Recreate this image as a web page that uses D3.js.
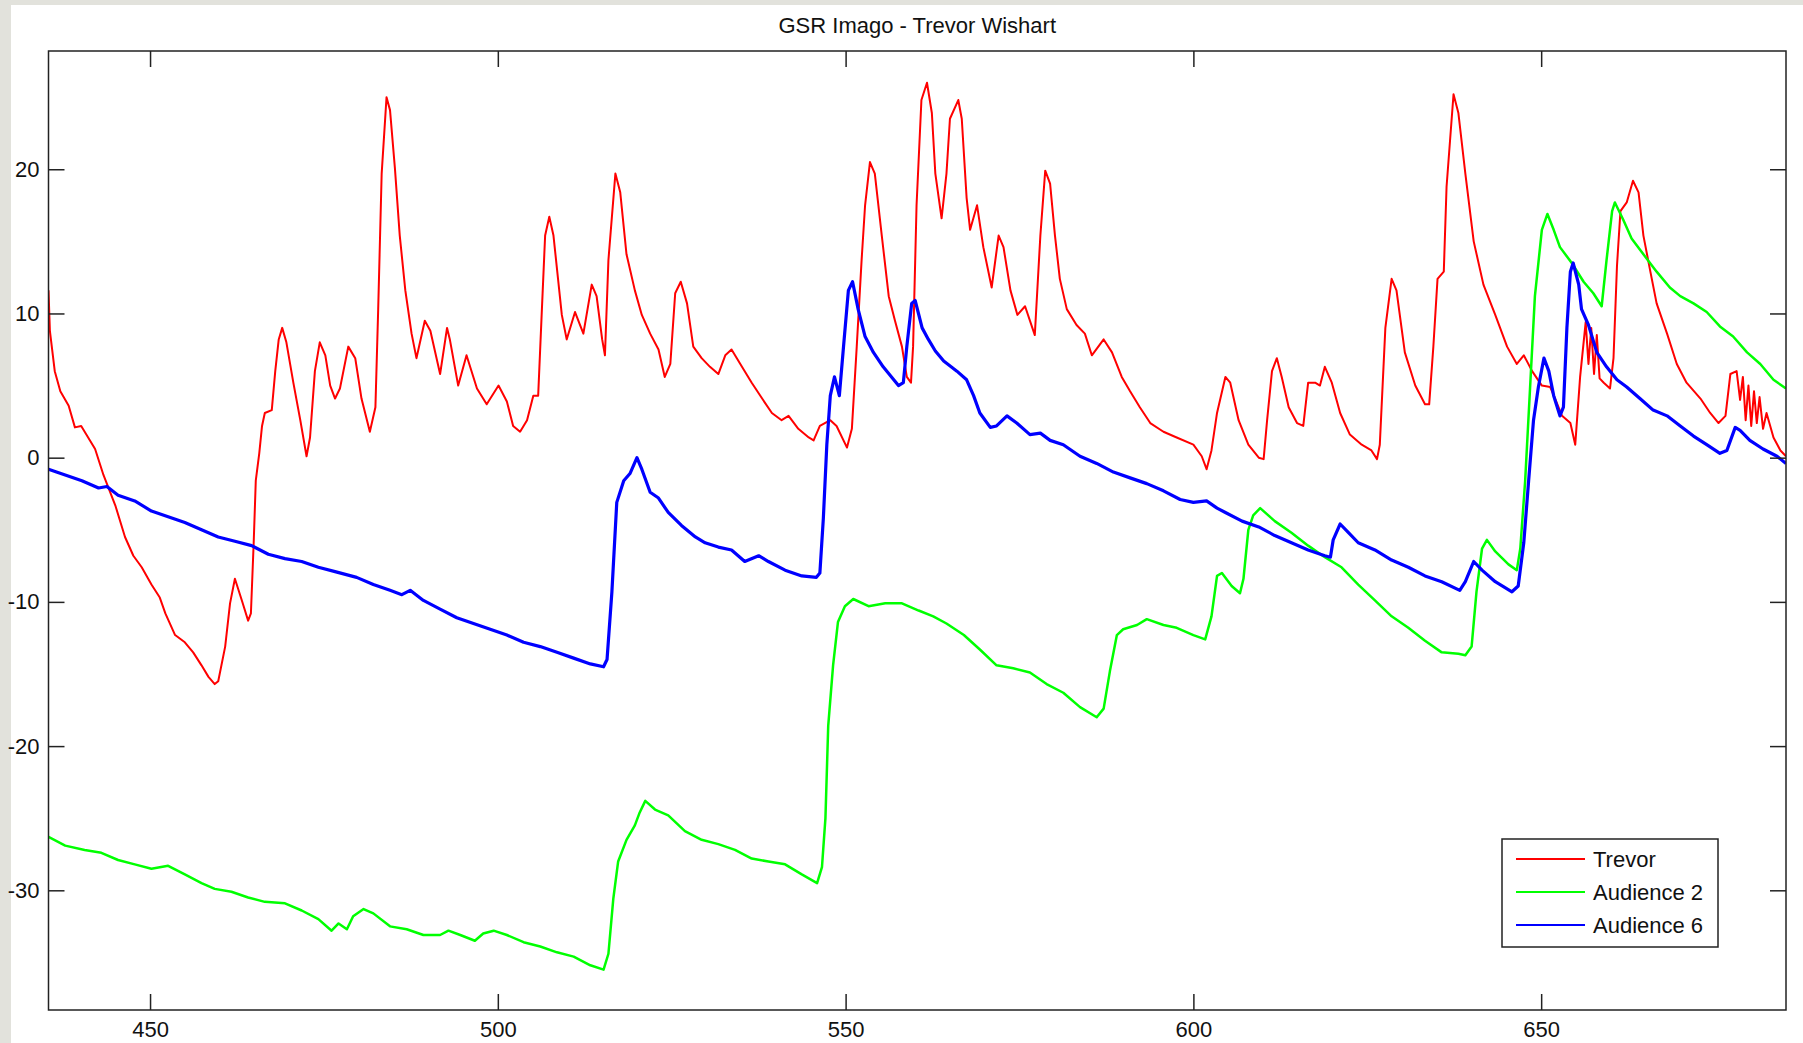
<!DOCTYPE html>
<html>
<head>
<meta charset="utf-8">
<script src="https://cdn.jsdelivr.net/npm/d3@7"></script>
<style>
  html, body { margin: 0; padding: 0; background: #e2e2dc; }
  svg { display: block; }
  text { font-family: "Liberation Sans", Arial, sans-serif; fill: #111; }
</style>
</head>
<body>
<svg id="chart" width="1803" height="1043"></svg>
<script>
// data: [time, gsr]
const trevor = [
  [435.4,11.6],[435.6,8.8],[436.3,6.0],[437.1,4.6],[438.3,3.6],[439.2,2.1],[440.1,2.2],[441.1,1.4],[442.1,0.6],
  [443.3,-1.2],[445.0,-3.3],[446.4,-5.5],[447.6,-6.8],[448.8,-7.6],[450.2,-8.8],[451.4,-9.7],[452.2,-10.8],
  [453.6,-12.3],[455.0,-12.8],[456.2,-13.5],[457.4,-14.4],[458.4,-15.2],[459.3,-15.7],[459.8,-15.5],[460.8,-13.1],
  [461.5,-10.1],[462.2,-8.4],[463.2,-9.9],[464.1,-11.3],[464.5,-10.8],[464.9,-5.9],[465.2,-1.6],[465.7,0.3],
  [466.1,2.2],[466.5,3.1],[467.5,3.3],[468.0,6.0],[468.5,8.2],[469.0,9.0],[469.6,8.0],[470.6,5.2],[471.6,2.6],
  [472.5,0.1],[473.0,1.4],[473.7,6.0],[474.4,8.0],[475.2,7.1],[475.9,5.0],[476.6,4.1],[477.3,4.8],[478.5,7.7],
  [479.5,6.9],[480.4,4.1],[481.6,1.8],[482.4,3.5],[482.8,10.3],[483.3,19.7],[484.0,25.0],[484.5,24.1],[485.2,20.1],
  [485.9,15.4],[486.7,11.6],[487.6,8.6],[488.3,6.9],[489.5,9.5],[490.3,8.8],[491.7,5.8],[492.7,9.0],[493.1,8.2],
  [494.3,5.0],[495.5,7.1],[497.0,4.8],[498.4,3.7],[500.1,5.0],[501.3,3.9],[502.2,2.2],[503.2,1.8],[504.2,2.6],
  [505.1,4.3],[505.8,4.3],[506.3,9.9],[506.8,15.4],[507.4,16.7],[508.0,15.4],[509.2,9.9],[509.9,8.2],[511.1,10.1],
  [512.3,8.6],[513.5,12.0],[514.2,11.2],[515.0,8.2],[515.4,7.1],[515.9,13.7],[516.9,19.7],[517.6,18.4],[518.5,14.1],
  [519.7,11.6],[520.7,9.9],[521.9,8.6],[523.1,7.5],[524.0,5.6],[524.8,6.5],[525.5,11.4],[526.3,12.2],[527.2,10.7],
  [528.1,7.7],[529.3,6.9],[530.5,6.3],[531.7,5.8],[532.7,7.1],[533.6,7.5],[535.1,6.3],[536.5,5.2],[538.0,4.1],
  [539.4,3.1],[540.8,2.6],[541.8,2.9],[543.2,2.0],[544.7,1.4],[545.4,1.2],[546.3,2.2],[547.8,2.6],[548.7,2.2],
  [550.2,0.7],[550.9,2.0],[551.6,7.7],[552.3,13.7],[552.8,17.5],[553.5,20.5],[554.2,19.7],[555.2,15.4],[556.2,11.2],
  [557.1,9.5],[558.1,7.7],[558.8,5.6],[559.4,5.2],[559.7,7.7],[560.2,17.5],[560.9,24.8],[561.7,26.0],[562.4,23.9],
  [562.9,19.7],[563.8,16.6],[564.5,19.7],[565.0,23.5],[566.2,24.8],[566.7,23.5],[567.4,18.0],[567.9,15.8],
  [568.9,17.5],[569.8,14.6],[571.0,11.8],[572.0,15.4],[572.7,14.6],[573.7,11.6],[574.7,9.9],[575.8,10.5],
  [577.2,8.5],[578.0,15.4],[578.7,19.9],[579.4,19.0],[580.1,15.4],[580.8,12.4],[581.8,10.3],[583.2,9.2],
  [584.4,8.6],[585.4,7.1],[587.1,8.2],[588.3,7.3],[589.7,5.6],[590.9,4.6],[592.3,3.5],[593.8,2.4],[595.7,1.8],
  [597.6,1.4],[600.0,0.9],[601.2,0.1],[601.9,-0.8],[602.6,0.5],[603.4,3.1],[604.6,5.6],[605.3,5.2],[606.5,2.6],
  [607.9,0.9],[609.4,0.0],[610.1,-0.1],[610.6,2.6],[611.3,6.0],[612.0,6.9],[612.7,5.6],[613.7,3.5],[614.9,2.4],
  [615.8,2.2],[616.5,5.2],[617.5,5.2],[618.2,5.0],[618.9,6.3],[619.9,5.2],[621.1,3.1],[622.5,1.6],[624.2,0.9],
  [625.6,0.5],[626.4,-0.1],[626.8,0.9],[627.6,9.0],[628.5,12.4],[629.2,11.6],[630.4,7.3],[631.9,5.0],[633.3,3.7],
  [633.9,3.7],[634.5,7.7],[635.1,12.4],[636.0,12.9],[636.4,18.8],[637.4,25.2],[638.1,23.9],[639.1,19.7],
  [640.3,15.0],[641.7,12.0],[643.4,9.9],[645.1,7.7],[646.5,6.5],[647.5,7.1],[648.7,6.0],[650.1,5.0],[651.3,4.9],
  [652.0,4.1],[653.0,2.9],[654.2,2.4],[654.9,0.9],[655.6,5.6],[656.4,9.4],[656.8,6.5],[657.2,9.0],[657.6,5.8],
  [658.0,8.5],[658.4,5.5],[659.0,5.2],[659.9,4.8],[660.4,6.9],[660.9,13.3],[661.4,17.1],[662.3,17.7],[663.2,19.2],
  [664.0,18.4],[664.7,15.4],[665.7,12.9],[666.6,10.7],[668.1,8.6],[669.5,6.5],[670.9,5.2],[672.9,4.1],[674.3,3.1],
  [675.5,2.4],[676.5,2.9],[677.2,5.8],[678.1,6.0],[678.6,4.0],[679.0,5.6],[679.4,2.6],[679.8,5.0],[680.2,2.2],
  [680.6,4.6],[681.0,2.4],[681.4,4.2],[681.9,2.0],[682.4,3.1],[683.4,1.4],[684.4,0.5],[685.2,0.1]
];

const audience2 = [
  [435.4,-26.3],[437.8,-26.9],[440.6,-27.2],[443.0,-27.4],[445.4,-27.9],[447.8,-28.2],[450.2,-28.5],[452.6,-28.3],
  [455.0,-28.9],[457.4,-29.5],[459.3,-29.9],[461.7,-30.1],[464.1,-30.5],[466.5,-30.8],[469.4,-30.9],[471.8,-31.4],
  [474.2,-32.0],[476.1,-32.8],[477.1,-32.3],[478.3,-32.7],[479.2,-31.8],[480.7,-31.3],[482.1,-31.6],[484.5,-32.5],
  [486.9,-32.7],[489.3,-33.1],[491.7,-33.1],[492.9,-32.8],[494.6,-33.1],[496.7,-33.5],[497.9,-33.0],[499.4,-32.8],
  [501.3,-33.1],[503.7,-33.6],[506.1,-33.9],[508.5,-34.3],[510.9,-34.6],[513.3,-35.2],[515.2,-35.5],[515.9,-34.4],
  [516.6,-30.6],[517.3,-28.0],[518.5,-26.5],[519.7,-25.5],[520.4,-24.6],[521.2,-23.8],[522.6,-24.4],[524.5,-24.8],
  [526.9,-25.9],[529.3,-26.5],[531.7,-26.8],[534.1,-27.2],[536.5,-27.8],[538.9,-28.0],[541.3,-28.2],[543.7,-28.9],
  [545.9,-29.5],[546.6,-28.4],[547.1,-25.0],[547.5,-18.6],[548.2,-14.4],[548.9,-11.4],[549.9,-10.3],[551.1,-9.8],
  [553.3,-10.3],[555.7,-10.1],[558.1,-10.1],[560.5,-10.6],[562.6,-11.0],[564.5,-11.5],[567.0,-12.3],[569.3,-13.3],
  [571.7,-14.4],[574.1,-14.6],[576.5,-14.9],[578.9,-15.7],[581.3,-16.3],[583.7,-17.3],[586.1,-18.0],[587.1,-17.4],
  [588.0,-14.8],[589.0,-12.3],[589.9,-11.9],[591.9,-11.6],[593.3,-11.2],[595.7,-11.6],[597.6,-11.8],[600.0,-12.3],
  [601.7,-12.6],[602.6,-11.0],[603.4,-8.2],[604.1,-8.0],[605.5,-8.9],[606.7,-9.4],[607.2,-8.4],[607.9,-5.0],
  [608.6,-4.0],[609.6,-3.5],[611.7,-4.4],[614.1,-5.2],[616.5,-6.1],[618.9,-6.9],[621.3,-7.6],[623.7,-8.8],
  [626.1,-9.9],[628.5,-11.0],[630.9,-11.8],[633.3,-12.7],[635.7,-13.5],[638.1,-13.6],[639.1,-13.7],[640.0,-13.1],
  [640.7,-9.3],[641.5,-6.3],[642.2,-5.7],[643.4,-6.5],[645.3,-7.4],[646.5,-7.8],[647.0,-6.3],[647.7,-1.6],
  [648.4,4.8],[649.1,11.2],[650.1,15.8],[650.9,16.9],[651.8,15.8],[652.7,14.6],[654.4,13.5],[656.1,12.2],
  [657.5,11.4],[658.7,10.5],[659.4,13.7],[660.2,17.1],[660.6,17.7],[661.8,16.5],[663.0,15.2],[664.7,14.1],
  [666.6,12.9],[668.5,11.8],[670.0,11.2],[671.9,10.7],[673.8,10.1],[675.7,9.1],[677.6,8.4],[679.6,7.3],
  [681.5,6.5],[683.4,5.4],[685.2,4.8]
];

const audience6 = [
  [435.4,-0.8],[437.8,-1.2],[440.2,-1.6],[442.6,-2.1],[443.8,-2.0],[445.4,-2.6],[447.8,-3.0],[450.2,-3.7],
  [452.6,-4.1],[455.0,-4.5],[457.4,-5.0],[459.8,-5.5],[462.2,-5.8],[464.6,-6.1],[467.0,-6.7],[469.4,-7.0],
  [471.8,-7.2],[474.2,-7.6],[476.6,-7.9],[479.7,-8.3],[482.1,-8.8],[484.5,-9.2],[486.2,-9.5],[487.4,-9.2],
  [489.3,-9.9],[491.7,-10.5],[494.1,-11.1],[496.5,-11.5],[498.9,-11.9],[501.3,-12.3],[503.7,-12.8],[506.1,-13.1],
  [508.5,-13.5],[510.9,-13.9],[513.3,-14.3],[515.2,-14.5],[515.7,-14.0],[516.4,-9.3],[517.1,-3.1],[518.1,-1.6],
  [519.0,-1.1],[520.0,0.0],[520.7,-0.8],[521.9,-2.4],[523.1,-2.8],[524.5,-3.8],[526.4,-4.7],[528.4,-5.5],
  [529.8,-5.9],[531.7,-6.2],[533.6,-6.4],[535.5,-7.2],[537.5,-6.8],[538.9,-7.2],[541.3,-7.8],[543.7,-8.2],
  [545.8,-8.3],[546.3,-8.0],[546.8,-4.2],[547.3,0.9],[547.8,4.3],[548.4,5.6],[549.1,4.3],[549.7,7.7],
  [550.4,11.6],[551.0,12.2],[551.8,10.3],[552.8,8.4],[554.0,7.3],[555.4,6.3],[556.6,5.6],[557.6,5.0],
  [558.3,5.2],[558.8,7.7],[559.5,10.7],[560.0,10.9],[561.0,9.0],[561.9,8.2],[562.9,7.4],[564.1,6.7],
  [566.0,6.0],[567.4,5.4],[568.4,4.3],[569.3,3.1],[570.8,2.1],[571.7,2.2],[573.2,2.9],[574.6,2.4],
  [576.5,1.6],[578.0,1.7],[579.4,1.2],[581.3,0.9],[583.7,0.1],[586.1,-0.4],[588.5,-1.0],[590.9,-1.4],
  [593.3,-1.8],[595.7,-2.3],[598.1,-2.9],[600.0,-3.1],[601.9,-3.0],[603.4,-3.5],[604.6,-3.8],[607.0,-4.4],
  [609.4,-4.8],[611.7,-5.4],[614.1,-5.9],[616.5,-6.4],[618.9,-6.8],[619.7,-6.9],[620.1,-5.7],[621.1,-4.6],
  [622.3,-5.2],[623.7,-5.9],[626.1,-6.4],[628.5,-7.1],[630.9,-7.6],[633.3,-8.2],[635.7,-8.6],[638.3,-9.2],
  [639.1,-8.6],[640.3,-7.2],[641.5,-7.8],[643.4,-8.6],[645.8,-9.3],[646.7,-8.9],[647.5,-5.9],[648.2,-1.6],
  [648.9,2.6],[649.6,4.9],[650.4,6.9],[651.1,6.0],[651.8,4.3],[652.7,2.9],[653.2,3.5],[653.7,9.0],
  [654.2,12.9],[654.6,13.5],[655.4,12.0],[655.8,10.3],[656.8,9.2],[658.0,7.3],[659.4,6.3],[660.9,5.4],
  [662.3,4.9],[664.2,4.1],[666.1,3.3],[668.1,2.9],[670.0,2.2],[671.9,1.5],[673.8,0.9],[675.7,0.3],
  [676.7,0.5],[677.9,2.1],[678.6,1.9],[680.0,1.2],[681.9,0.6],[683.9,0.1],[685.2,-0.4]
];

const seriesNames = ['Trevor', 'Audience 2', 'Audience 6'];
const seriesColors = ['#ff0000', '#00ff00', '#0000ff'];
const xTicks = [450, 500, 550, 600, 650];
const yTicks = [-30, -20, -10, 0, 10, 20];
const title = 'GSR Imago - Trevor Wishart';

let svg = d3.select('#chart');
let width = +svg.attr('width');
let height = +svg.attr('height');

// white figure area over the grey window background
svg.append('rect')
  .attr('x', 11).attr('y', 5)
  .attr('width', width - 11).attr('height', height - 5)
  .attr('fill', '#ffffff');

let plotLeft = 48.5, plotRight = 1786, plotTop = 51, plotBottom = 1010;
let x = d3.scaleLinear().domain([435.4, 685.2]).range([plotLeft, plotRight]);
let y = d3.scaleLinear().domain([-38.3, 28.2]).range([plotBottom, plotTop]);

svg.append('defs').append('clipPath').attr('id', 'plot-clip')
  .append('rect')
    .attr('x', plotLeft).attr('y', plotTop)
    .attr('width', plotRight - plotLeft).attr('height', plotBottom - plotTop);

// lines
let line = d3.line().x(d => x(d[0])).y(d => y(d[1]));
let lineWidths = [2, 2.5, 3.2];
let plot = svg.append('g').attr('clip-path', 'url(#plot-clip)');
[trevor, audience2, audience6].forEach((data, i) => {
  plot.append('path')
    .datum(data)
    .attr('d', line)
    .attr('fill', 'none')
    .attr('stroke', seriesColors[i])
    .attr('stroke-width', lineWidths[i])
    .attr('stroke-linejoin', 'round');
});

// axes, ticks pointing inwards like matlab
let fmt = d => String(d);
function styleAxis(g) {
  g.select('.domain').remove();
  g.selectAll('line').attr('stroke', '#222').attr('stroke-width', 1.5);
  g.selectAll('text').attr('font-size', 22).attr('fill', '#111')
    .attr('font-family', '"Liberation Sans", Arial, sans-serif');
}

svg.append('g')
  .attr('transform', `translate(0,${plotBottom})`)
  .call(d3.axisBottom(x).tickValues(xTicks).tickSize(-16).tickPadding(11).tickFormat(fmt))
  .call(styleAxis);
svg.append('g')
  .attr('transform', `translate(0,${plotTop})`)
  .call(d3.axisTop(x).tickValues(xTicks).tickSize(-16).tickFormat(''))
  .call(styleAxis);
svg.append('g')
  .attr('transform', `translate(${plotLeft},0)`)
  .call(d3.axisLeft(y).tickValues(yTicks).tickSize(-16).tickPadding(9).tickFormat(fmt))
  .call(styleAxis);
svg.append('g')
  .attr('transform', `translate(${plotRight},0)`)
  .call(d3.axisRight(y).tickValues(yTicks).tickSize(-16).tickFormat(''))
  .call(styleAxis);

// frame
svg.append('rect')
  .attr('x', plotLeft).attr('y', plotTop)
  .attr('width', plotRight - plotLeft).attr('height', plotBottom - plotTop)
  .attr('fill', 'none')
  .attr('stroke', '#222')
  .attr('stroke-width', 1.5);

// title
svg.append('text')
  .attr('x', (plotLeft + plotRight) / 2)
  .attr('y', 33)
  .attr('text-anchor', 'middle')
  .attr('font-size', 22)
  .text(title);

// legend
let legend = svg.append('g').attr('transform', 'translate(1502,839)');
legend.append('rect')
  .attr('width', 216).attr('height', 108)
  .attr('fill', '#ffffff')
  .attr('stroke', '#222')
  .attr('stroke-width', 1.5);
seriesNames.forEach((name, i) => {
  let ly = 20 + i * 33;
  legend.append('line')
    .attr('x1', 14).attr('x2', 83)
    .attr('y1', ly).attr('y2', ly)
    .attr('stroke', seriesColors[i])
    .attr('stroke-width', 1.8);
  legend.append('text')
    .attr('x', 91).attr('y', ly)
    .attr('dy', '0.35em')
    .attr('font-size', 22)
    .text(name);
});
</script>
</body>
</html>
